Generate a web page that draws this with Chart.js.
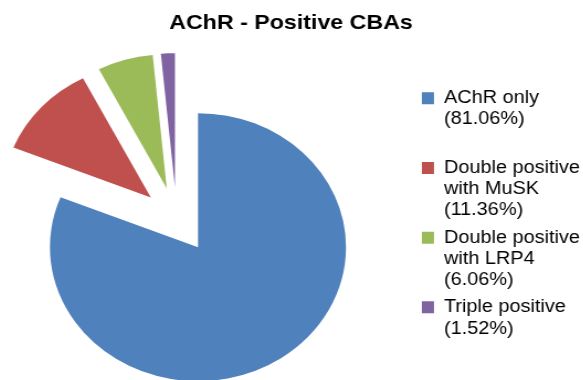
<!DOCTYPE html>
<html>
<head>
<meta charset="utf-8">
<script src="https://cdn.jsdelivr.net/npm/chart.js@4"></script>
<style>
  html, body { margin: 0; padding: 0; background: #fff; overflow: hidden; width: 583px; height: 380px; }
</style>
</head>
<body>
<!-- drawn 639 wide, shown 706 wide: the pie comes out a little oval -->
<canvas id="chart-pie" width="639" height="380" style="width:706px;height:380px;margin-left:-62px"></canvas>
<script>
// Data
const categories = [['AChR only'], ['Double positive', 'with MuSK'], ['Double positive', 'with LRP4'], ['Triple positive']];
const shares = [81.06, 11.36, 6.06, 1.52];
const colors = ['#4F81BD', '#C0504D', '#9BBB59', '#8064A2'];
const explode = [34.5, 31.5, 31.5, 31.5]; // px each slice is pulled out of the pie

// Legend rows: name lines + percentage, padded to 3 rows so entries are evenly spaced
function legendText(i) {
  const lines = categories[i].concat('(' + shares[i].toFixed(2) + '%)');
  while (i < categories.length - 1 && lines.length < 3) lines.push('');
  return lines;
}

// Pie whose slices can be pulled straight out along their middle angle
// (the built-in `offset` also grows the radius and trims the angle)
class ExplodedPieController extends Chart.PieController {
  draw() {
    const ctx = this.chart.ctx;
    const pull = this.getDataset().explode || [];
    this._cachedMeta.data.forEach((arc, i) => {
      const mid = (arc.startAngle + arc.endAngle) / 2;
      const d = pull[i] || 0;
      ctx.save();
      ctx.translate(Math.cos(mid) * d, Math.sin(mid) * d);
      arc.draw(ctx, this.chart.chartArea);
      ctx.restore();
    });
  }
}
ExplodedPieController.id = 'explodedPie';
Chart.register(ExplodedPieController);

!function(){
  const ctx = document.getElementById('chart-pie');

  new Chart(ctx, {
    type: 'explodedPie',
    data: {
      labels: categories.map(c => c.join(' ')),
      datasets: [{
        data: shares,
        backgroundColor: colors,
        borderWidth: 0,
        explode: explode,
        radius: 134,
        clip: false
      }]
    },
    options: {
      responsive: false,
      animation: false,
      layout: {
        padding: { left: 0, right: 0, top: 0, bottom: 26 }
      },
      plugins: {
        title: {
          display: true,
          text: 'AChR - Positive CBAs',
          color: '#000',
          font: { family: "'Liberation Sans', Arial, sans-serif", size: 21, weight: 'bold', lineHeight: 1.2 },
          padding: { top: 11, bottom: 47 }
        },
        // empty strip right of the legend, keeps the title centred over the page
        subtitle: {
          display: true,
          position: 'right',
          fullSize: false,
          text: '',
          font: { size: 48, lineHeight: 1 },
          padding: 0
        },
        legend: {
          position: 'right',
          align: 'start',
          fullSize: false,
          labels: {
            color: '#000',
            font: { family: "'Liberation Sans', Arial, sans-serif", size: 18, lineHeight: 1.18 },
            boxWidth: 11,
            boxHeight: 12,
            padding: 6,
            generateLabels: chart => chart.data.labels.map((l, i) => ({
              text: legendText(i),
              fillStyle: colors[i],
              strokeStyle: colors[i],
              lineWidth: 0,
              hidden: false,
              index: i
            }))
          }
        },
        tooltip: { enabled: false }
      }
    }
  });
}();
</script>
</body>
</html>
